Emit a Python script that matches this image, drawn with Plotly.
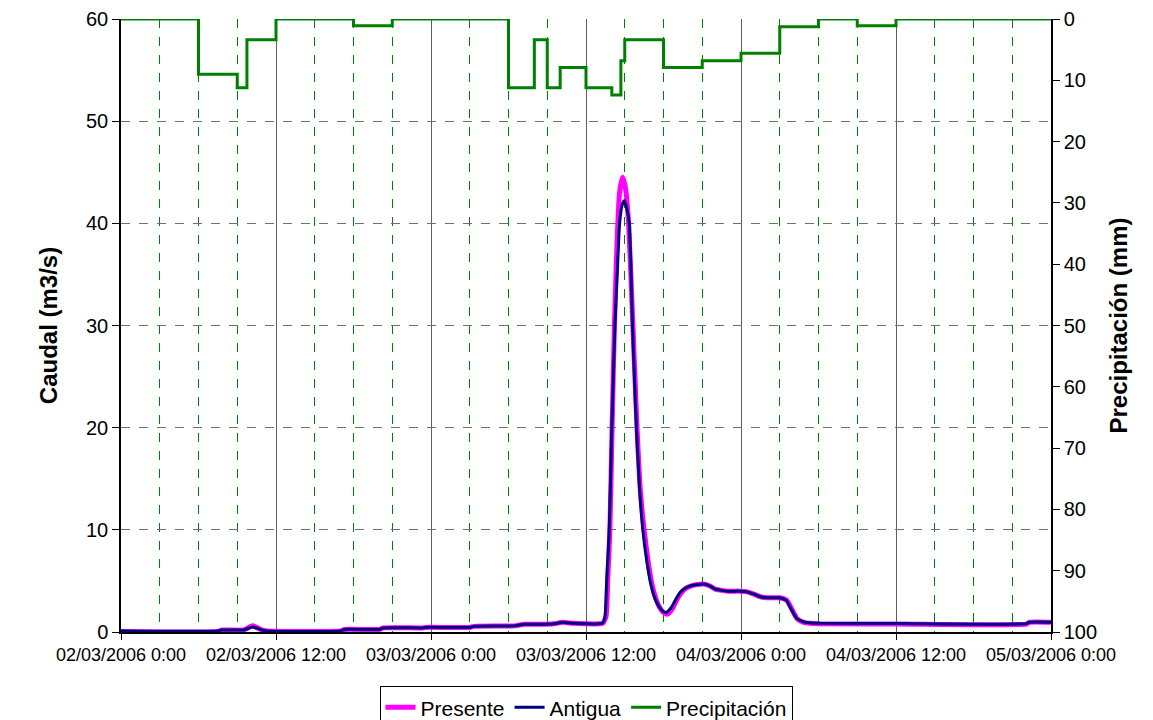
import pandas as pd
import plotly.graph_objects as go

# Hours elapsed since 02/03/2006 0:00
START = pd.Timestamp("2006-03-02 00:00")

# Caudal, hidrograma "Antigua" (m3/s)
antigua_h = [0, 7.5, 7.8, 9.5, 10.2, 10.9, 11.3, 17.0, 17.3, 20.0, 20.3, 23.3, 23.6,
             27.0, 27.3, 30.5, 31.2, 32.5, 33.5, 34.2, 35.0, 36.0, 37.0, 37.3, 37.47,
             37.6, 37.8, 38.0, 38.24, 38.45, 38.6, 38.8, 38.97, 39.15, 39.35, 39.6,
             39.9, 40.15, 40.4, 40.7, 41.0, 41.3, 41.6, 41.9, 42.2, 42.6, 43.0, 43.3,
             43.7, 44.05, 44.6, 45.1, 45.6, 46.0, 46.4, 47.0, 47.9, 48.4, 49.0, 49.5,
             50.0, 51.0, 51.5, 51.9, 52.3, 52.8, 53.3, 54.1, 60.0, 70.1, 70.3, 72.0]
antigua_q = [0.1, 0.1, 0.2, 0.2, 0.5, 0.2, 0.1, 0.1, 0.25, 0.25, 0.4, 0.4, 0.45,
             0.45, 0.55, 0.6, 0.75, 0.75, 0.8, 0.95, 0.85, 0.8, 0.8, 0.9, 1.5,
             5.0, 10.0, 20.0, 30.0, 36.0, 40.0, 41.8, 42.2, 41.5, 40.0, 30.0,
             20.0, 14.0, 10.0, 7.0, 4.8, 3.4, 2.6, 2.1, 1.9, 2.4, 3.3, 3.9,
             4.3, 4.5, 4.65, 4.7, 4.5, 4.2, 4.1, 4.0, 4.0, 3.95, 3.7, 3.45,
             3.35, 3.35, 3.1, 2.2, 1.35, 1.0, 0.9, 0.85, 0.82, 0.82, 0.95, 0.95]

# Caudal, hidrograma "Presente" (m3/s)
presente_h = [0, 7.5, 7.8, 9.5, 10.2, 10.9, 11.3, 17.0, 17.3, 20.0, 20.3, 23.3, 23.6,
              27.0, 27.3, 30.5, 31.2, 32.5, 33.5, 34.2, 35.0, 36.0, 37.0, 37.3, 37.55,
              37.68, 37.85, 38.02, 38.2, 38.4, 38.6, 38.84, 39.05, 39.3, 39.6, 39.95,
              40.2, 40.5, 40.8, 41.1, 41.4, 41.7, 42.0, 42.3, 42.7, 43.05, 43.35,
              43.75, 44.1, 44.6, 45.1, 45.6, 46.0, 46.4, 47.0, 47.9, 48.4, 49.0, 49.5,
              50.0, 51.0, 51.55, 51.95, 52.35, 52.85, 53.35, 54.1, 60.0, 70.1, 70.3, 72.0]
presente_q = [0.05, 0.05, 0.2, 0.2, 0.6, 0.2, 0.1, 0.1, 0.25, 0.25, 0.4, 0.4, 0.45,
              0.45, 0.55, 0.6, 0.75, 0.75, 0.8, 0.95, 0.85, 0.8, 0.8, 0.85, 1.5,
              5.0, 10.0, 20.0, 30.0, 38.0, 43.0, 44.5, 43.5, 40.0, 31.0, 20.0,
              14.0, 10.0, 7.0, 4.7, 3.3, 2.4, 1.9, 1.75, 2.3, 3.2, 3.8,
              4.3, 4.5, 4.65, 4.7, 4.5, 4.2, 4.1, 4.0, 4.0, 3.95, 3.7, 3.45,
              3.35, 3.35, 3.1, 2.2, 1.3, 0.95, 0.85, 0.8, 0.78, 0.78, 0.95, 0.95]

# Precipitación por intervalos (mm), valor vigente desde cada instante
precip_h = [0, 6, 9, 9.75, 12, 18, 21, 30, 32, 33, 34, 36, 38, 38.7, 39,
            42, 45, 48, 51, 54, 57, 60, 72]
precip_mm = [0, 9.0, 11.2, 3.4, 0, 1.1, 0, 11.2, 3.4, 11.2, 7.9, 11.2, 12.4, 6.8, 3.4,
             7.9, 6.8, 5.6, 1.25, 0, 1.1, 0, 0]

tick_labels = ["02/03/2006 0:00", "02/03/2006 12:00", "03/03/2006 0:00",
               "03/03/2006 12:00", "04/03/2006 0:00", "04/03/2006 12:00",
               "05/03/2006 0:00"]
tick_hours = [0, 12, 24, 36, 48, 60, 72]


def to_time(hours):
    return START + pd.to_timedelta(hours, unit="h")


FONT = "Liberation Sans, Arial, sans-serif"

fig = go.Figure()
fig.add_trace(go.Scatter(x=to_time(presente_h), y=presente_q, name="Presente",
                         mode="lines",
                         line=dict(color="#FF00FF", width=5, shape="spline", smoothing=0.5)))
fig.add_trace(go.Scatter(x=to_time(antigua_h), y=antigua_q, name="Antigua",
                         mode="lines",
                         line=dict(color="#000080", width=3, shape="spline", smoothing=0.5)))
fig.add_trace(go.Scatter(x=to_time(precip_h), y=precip_mm, name="Precipitación",
                         mode="lines", line=dict(color="#008000", width=3, shape="hv"),
                         yaxis="y2"))

fig.update_layout(
    width=1153, height=720,
    margin=dict(l=121, r=102, t=19, b=88, autoexpand=False),
    paper_bgcolor="white", plot_bgcolor="white",
    font=dict(family=FONT, color="black"),
    showlegend=True,
    legend=dict(orientation="h", x=0.5, xanchor="center", xref="paper",
                y=0.047, yanchor="top", yref="container",
                bordercolor="black", borderwidth=1, font=dict(size=21),
                itemwidth=30, tracegroupgap=0),
    xaxis=dict(
        type="date",
        range=[to_time(0), to_time(72)],
        tickmode="array",
        tickvals=to_time(tick_hours),
        ticktext=tick_labels,
        tickfont=dict(size=18),
        ticks="outside", ticklen=6, tickcolor="black",
        showgrid=True, gridcolor="#606060", gridwidth=1,
        minor=dict(dtick=3 * 3600 * 1000, tick0=to_time(0), showgrid=True,
                   gridcolor="#008000", griddash="dash", gridwidth=1),
        showline=True, linecolor="black", linewidth=1.5,
        zeroline=False, automargin=False,
    ),
    yaxis=dict(
        range=[0, 60], dtick=10,
        tickfont=dict(size=20),
        ticks="outside", ticklen=7, tickcolor="black",
        showgrid=True, gridcolor="#707070", griddash="dash", gridwidth=1,
        showline=True, linecolor="black", linewidth=1.5,
        zeroline=False, automargin=False,
        title=dict(text="<b>Caudal (m3/s)</b>", font=dict(size=24), standoff=22),
    ),
    yaxis2=dict(
        range=[100, 0], dtick=10, overlaying="y", side="right",
        tickfont=dict(size=20),
        ticks="outside", ticklen=7, tickcolor="black",
        showgrid=False,
        showline=True, linecolor="black", linewidth=1.5,
        zeroline=False, automargin=False,
        title=dict(text="<b>Precipitación (mm)</b>", font=dict(size=24), standoff=14),
    ),
)

fig.write_html("out.html")
